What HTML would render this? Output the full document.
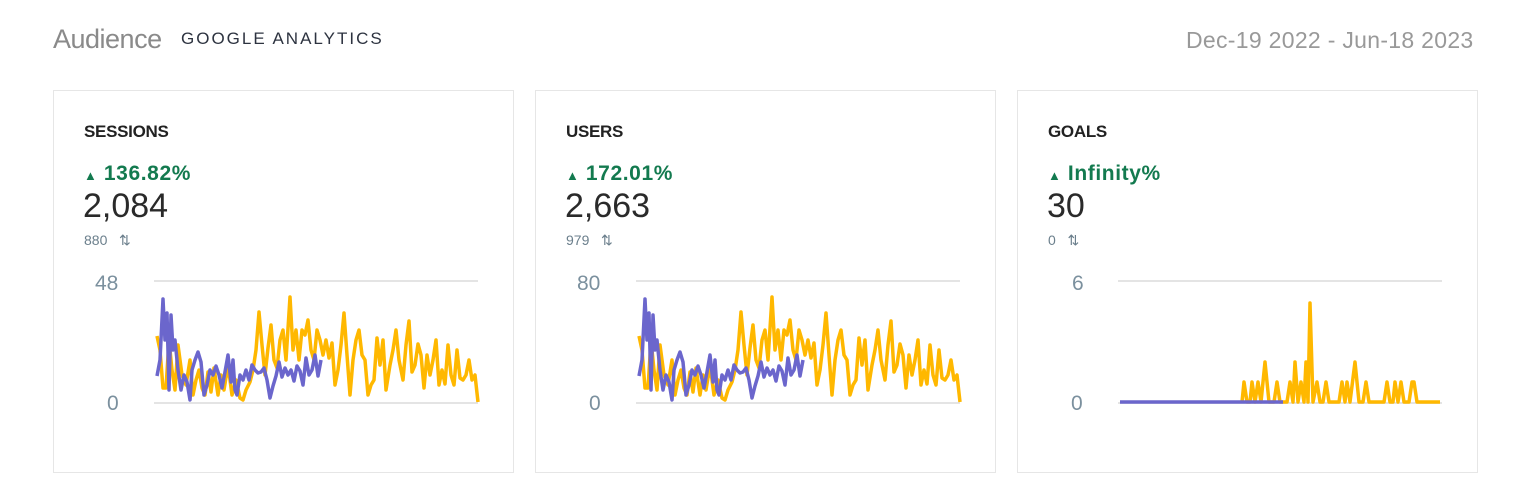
<!DOCTYPE html>
<html><head><meta charset="utf-8"><style>
body{margin:0;width:1534px;height:482px;background:#fff;font-family:"Liberation Sans",sans-serif;position:relative;overflow:hidden}
.a{position:absolute;white-space:nowrap}
.card{position:absolute;top:90px;width:461px;height:383px;border:1px solid #e6e6e6;box-sizing:border-box}
.t{font-size:17px;color:#222;font-weight:bold;letter-spacing:-0.3px}
.p{font-size:21px;color:#137a4f;font-weight:bold;letter-spacing:0.6px}
.v{font-size:34px;color:#2a2a2a}
.s{font-size:14px;color:#6b7f8c}
.ax{font-size:21px;color:#7b909e}
</style></head><body>
<div class="a" style="left:53px;top:24px;font-size:27px;color:#8a8a8a;letter-spacing:-0.5px">Audience</div>
<div class="a" style="left:181px;top:29px;font-size:17px;color:#2d3340;letter-spacing:2px">GOOGLE ANALYTICS</div>
<div class="a" style="left:1186px;top:27px;font-size:23px;color:#999;letter-spacing:0.3px">Dec-19 2022 - Jun-18 2023</div>

<div class="card" style="left:53px"></div>
<div class="card" style="left:535px"></div>
<div class="card" style="left:1017px"></div>

<div class="a t" style="left:84px;top:122px">SESSIONS</div>
<div class="a p" style="left:84px;top:162px"><span style="font-size:13px">▲</span> 136.82%</div>
<div class="a v" style="left:83px;top:187px">2,084</div>
<div class="a s" style="left:84px;top:232px">880 &nbsp;&nbsp;⇅</div>
<div class="a ax" style="left:95px;top:272px">48</div>
<div class="a ax" style="left:107px;top:392px">0</div>

<div class="a t" style="left:566px;top:122px">USERS</div>
<div class="a p" style="left:566px;top:162px"><span style="font-size:13px">▲</span> 172.01%</div>
<div class="a v" style="left:565px;top:187px">2,663</div>
<div class="a s" style="left:566px;top:232px">979 &nbsp;&nbsp;⇅</div>
<div class="a ax" style="left:577px;top:272px">80</div>
<div class="a ax" style="left:589px;top:392px">0</div>

<div class="a t" style="left:1048px;top:122px">GOALS</div>
<div class="a p" style="left:1048px;top:162px"><span style="font-size:13px">▲</span> Infinity%</div>
<div class="a v" style="left:1047px;top:187px">30</div>
<div class="a s" style="left:1048px;top:232px">0 &nbsp;&nbsp;⇅</div>
<div class="a ax" style="left:1072px;top:272px">6</div>
<div class="a ax" style="left:1071px;top:392px">0</div>

<svg class="a" style="left:0;top:0" width="1534" height="482">
<g stroke="#e4e4e4" stroke-width="2">
<line x1="154" y1="281" x2="478" y2="281"/><line x1="154" y1="403" x2="478" y2="403"/>
<line x1="636" y1="281" x2="960" y2="281"/><line x1="636" y1="403" x2="960" y2="403"/>
<line x1="1118" y1="281" x2="1442" y2="281"/><line x1="1118" y1="403" x2="1442" y2="403"/>
</g>
<g fill="none" stroke-width="3.5" stroke-linejoin="round">
<g id="ses">
<polyline stroke="#ffb800" points="157,336 160,350 163,388 166,388 169,340 172,370 175,390 178,345 182,375 186,385 190,360 193,395 196,380 199,370 202,388 205,395 208,372 211,392 214,368 218,395 221,375 224,390 228,365 232,395 236,380 240,398 243,400 246,390 250,382 253,370 256,350 259,312 262,345 265,375 268,348 271,325 274,360 277,368 280,340 283,330 286,360 290,297 293,350 296,330 299,360 302,330 305,335 308,320 311,350 314,360 317,330 320,340 323,355 326,340 329,358 332,343 335,385 338,370 341,345 344,313 347,355 350,395 353,360 356,340 359,330 362,355 365,360 368,395 371,385 374,380 377,338 380,365 383,340 386,390 390,365 393,350 396,330 399,360 403,380 406,345 409,321 412,372 415,365 418,344 421,355 424,388 427,355 430,375 433,360 436,340 439,385 442,370 445,384 448,345 451,375 454,385 457,350 460,378 463,380 466,375 469,360 472,380 475,375 478,402"/>
<polyline stroke="#6b66cc" points="157,376 160,360 163,299 165,340 167,313 169,390 171,315 173,350 175,340 178,370 181,390 184,375 187,382 190,400 192,370 195,360 198,352 201,362 204,395 207,385 210,370 213,375 216,366 219,375 222,388 225,372 228,355 231,382 233,360 235,390 237,395 240,375 243,380 246,370 249,380 252,365 255,370 258,373 261,372 264,368 267,380 270,398 273,386 276,376 279,362 282,377 285,368 288,375 291,370 294,381 297,366 300,371 303,385 306,358 309,375 312,370 315,355 318,376 321,360"/>
</g>
<use href="#ses" transform="translate(482,0)"/>
<polyline stroke="#ffb800" points="1242,402 1244,382 1247,402 1250,402 1252,382 1255,402 1258,382 1261,402 1265,362 1269,402 1274,402 1277,382 1280,402 1287,402 1290,382 1293,402 1295,362 1298,402 1301,382 1304,402 1306,362 1308,402 1310,303 1313,402 1317,382 1320,402 1323,402 1326,382 1329,402 1339,402 1342,382 1345,402 1347,382 1350,402 1355,362 1359,402 1363,402 1366,382 1369,402 1384,402 1387,382 1390,402 1393,402 1395,382 1398,402 1401,382 1404,402 1409,402 1412,382 1414,382 1417,402 1440,402"/>
<polyline stroke="#6b66cc" points="1120,402 1283,402"/>
</g>
</svg>
</body></html>
